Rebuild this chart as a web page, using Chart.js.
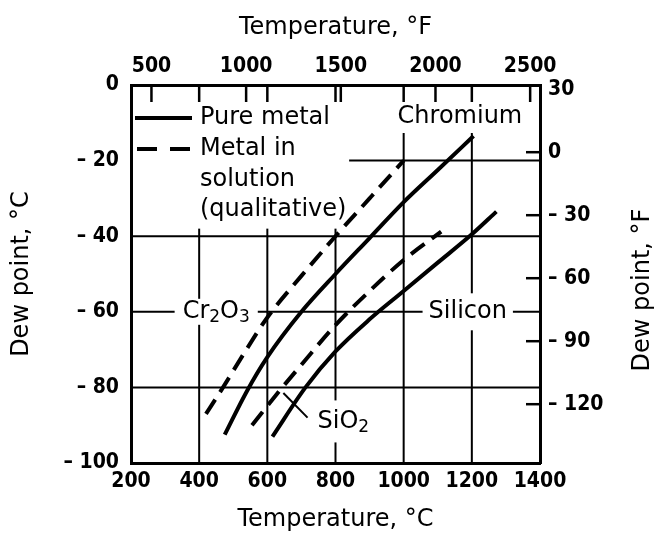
<!DOCTYPE html>
<html>
<head>
<meta charset="utf-8">
<script src="https://cdn.jsdelivr.net/npm/chart.js@4.4.1/dist/chart.umd.min.js"></script>
<style>
  html, body { margin: 0; padding: 0; background: #fff; }
  canvas { display: block; }
</style>
</head>
<body>
<canvas id="chart" width="661" height="535"></canvas>
<script>
// curves: [temperature °C, dew point °C]
const chromiumPure = [[475, -92.5], [540, -81], [600, -72], [700, -60], [800, -50], [900, -40.5], [1000, -31], [1100, -22.5], [1205, -13.5]];
const chromiumSolution = [[420, -87], [470, -80], [535, -70.5], [600, -61.5], [700, -50.5], [800, -40], [900, -30], [1000, -20]];
const siliconPure = [[615, -93], [712, -80], [800, -70.5], [900, -62], [1000, -54.5], [1100, -47], [1200, -39.5], [1272, -33.5]];
const siliconSolution = [[555, -90], [644, -80], [700, -74], [800, -63.5], [900, -54.5], [1000, -46.3], [1110, -38.8]];

// tick labels
const xTicksC = [200, 400, 600, 800, 1000, 1200, 1400];
const yTicksC = [0, -20, -40, -60, -80, -100];
const xTicksF = [500, 1000, 1500, 2000, 2500];
const yTicksF = [30, 0, -30, -60, -90, -120];

const cToF = c => c * 9 / 5 + 32;
const toXY = arr => arr.map(p => ({ x: p[0], y: p[1] }));
const dashLabel = v => (v < 0 ? '\u2013 ' + Math.abs(v) : String(v));

const tickFont = { family: "'Liberation Sans Narrow', 'DejaVu Sans Condensed', sans-serif", size: 21, weight: 'bold' };
const textFont = "'DejaVu Sans', sans-serif";

function line(ctx, x1, y1, x2, y2) {
  ctx.beginPath();
  ctx.moveTo(x1, y1);
  ctx.lineTo(x2, y2);
  ctx.stroke();
}

// text with subscripts: parts like ['Cr', '_2', 'O', '_3']
function richWidth(ctx, parts) {
  let w = 0;
  parts.forEach(p => {
    ctx.font = (p[0] === '_' ? '17px ' : '24px ') + textFont;
    w += ctx.measureText(p.replace('_', '')).width;
  });
  return w;
}
function drawRich(ctx, parts, cx, cy) {
  let px = cx - richWidth(ctx, parts) / 2;
  ctx.textAlign = 'left';
  parts.forEach(p => {
    const sub = p[0] === '_';
    const t = p.replace('_', '');
    ctx.font = (sub ? '17px ' : '24px ') + textFont;
    ctx.fillText(t, px, cy + (sub ? 6 : 0));
    px += ctx.measureText(t).width;
  });
}

// grid pieces, ticks drawn inside the frame, curve labels, legend
const extras = {
  id: 'extras',
  beforeDatasetsDraw(chart) {
    const { ctx, chartArea: a, scales: { x, y, x2, y2 } } = chart;
    ctx.save();
    ctx.strokeStyle = '#000';
    ctx.lineWidth = 2;
    // [value, from, to]
    const vLines = [[400, -38, -100], [600, -38, -100], [800, -38, -100], [1000, -12.7, -100], [1200, -12.7, -100]];
    const hLines = [[-20, 840, 1400], [-40, 200, 1400], [-60, 200, 1400], [-80, 200, 1400]];
    vLines.forEach(([v, a1, a2]) => {
      const px = x.getPixelForValue(v);
      line(ctx, px, y.getPixelForValue(a1), px, y.getPixelForValue(a2));
    });
    hLines.forEach(([v, b1, b2]) => {
      const py = y.getPixelForValue(v);
      line(ctx, x.getPixelForValue(b1), py, x.getPixelForValue(b2), py);
    });

    // inward ticks
    ctx.lineWidth = 2.5;
    xTicksF.forEach(f => {
      const px = x2.getPixelForValue(f);
      line(ctx, px, a.top, px, a.top + 17);
    });
    [400, 600, 800, 1000, 1200].forEach(c => {
      const px = x.getPixelForValue(c);
      line(ctx, px, a.top, px, a.top + 17);
    });
    yTicksF.filter(f => f <= 0).forEach(f => {
      const py = y2.getPixelForValue(f);
      line(ctx, a.right - 14, py, a.right, py);
    });

    // curve labels (white box hides grid behind text)
    ctx.textBaseline = 'middle';
    const labels = [
      { parts: ['Chromium'], x: 1165, y: -8.5, box: false },
      { parts: ['Silicon'], x: 1188, y: -60, padX: 6, h: 37 },
      { parts: ['Cr', '_2', 'O', '_3'], x: 450, y: -60, padX: 8, h: 26 },
      { parts: ['SiO', '_2'], x: 823, y: -89, padX: 4, h: 42 }
    ];
    labels.forEach(l => {
      const px = x.getPixelForValue(l.x);
      const py = y.getPixelForValue(l.y);
      if (l.box !== false) {
        const w = richWidth(ctx, l.parts) + 2 * l.padX;
        ctx.fillStyle = '#fff';
        ctx.fillRect(px - w / 2, py - l.h / 2, w, l.h);
      }
      ctx.fillStyle = '#000';
      drawRich(ctx, l.parts, px, py);
    });
    // SiO2 leader
    ctx.lineWidth = 2;
    line(ctx, x.getPixelForValue(647), y.getPixelForValue(-81.5), x.getPixelForValue(718), y.getPixelForValue(-88));
    ctx.restore();
  },
  afterDraw(chart) {
    const { ctx, chartArea: a } = chart;
    ctx.save();
    ctx.strokeStyle = '#000';
    ctx.fillStyle = '#000';
    ctx.font = '24px ' + textFont;
    ctx.textBaseline = 'middle';
    ctx.textAlign = 'left';

    // legend
    const rows = ['Pure metal', 'Metal in', 'solution', '(qualitative)'];
    const rowY = [33, 64, 95, 125];
    ctx.lineWidth = 4;
    line(ctx, a.left + 4, a.top + rowY[0], a.left + 61, a.top + rowY[0]);
    ctx.setLineDash([20, 13]);
    line(ctx, a.left + 6, a.top + rowY[1], a.left + 59, a.top + rowY[1]);
    ctx.setLineDash([]);
    rows.forEach((t, i) => ctx.fillText(t, a.left + 69, a.top + rowY[i]));

    // right axis title, reads bottom to top
    ctx.translate(643, 290);
    ctx.rotate(-Math.PI / 2);
    ctx.textAlign = 'center';
    ctx.fillText('Dew point, \u00b0F', 0, 0);
    ctx.restore();
  }
};

const ticksFrom = list => scale => { scale.ticks = list.map(v => ({ value: v })); };
const border = { display: true, color: '#000', width: 3 };
const grid = { drawOnChartArea: false, drawTicks: false };

new Chart(document.getElementById('chart'), {
  type: 'line',
  data: {
    datasets: [
      { label: 'Chromium, pure metal', data: toXY(chromiumPure), borderDash: [] },
      { label: 'Chromium, metal in solution', data: toXY(chromiumSolution), borderDash: [17, 9] },
      { label: 'Silicon, pure metal', data: toXY(siliconPure), borderDash: [] },
      { label: 'Silicon, metal in solution', data: toXY(siliconSolution), borderDash: [17, 9] }
    ].map(d => Object.assign(d, {
      borderColor: '#000',
      borderWidth: 4,
      pointRadius: 0,
      fill: false,
      cubicInterpolationMode: 'monotone',
      xAxisID: 'x',
      yAxisID: 'y'
    }))
  },
  options: {
    responsive: false,
    animation: false,
    layout: { padding: 0 },
    plugins: { legend: { display: false }, tooltip: { enabled: false } },
    scales: {
      x: {
        type: 'linear', position: 'bottom', min: 200, max: 1400,
        afterBuildTicks: ticksFrom(xTicksC),
        afterFit: s => { s.height = 72; },
        ticks: { font: tickFont, color: '#000', padding: 6, autoSkip: false, maxRotation: 0, callback: v => String(v) },
        grid, border,
        title: { display: true, text: 'Temperature, \u00b0C', color: '#000', font: { family: textFont, size: 24 }, padding: { top: 0, bottom: 1 } }
      },
      x2: {
        type: 'linear', position: 'top', min: cToF(200), max: cToF(1400),
        afterBuildTicks: ticksFrom(xTicksF),
        afterFit: s => { s.height = 85; },
        ticks: { font: tickFont, color: '#000', padding: 6, autoSkip: false, maxRotation: 0, callback: v => String(v) },
        grid, border,
        title: { display: true, text: 'Temperature, \u00b0F', color: '#000', font: { family: textFont, size: 24 }, padding: { top: 13, bottom: 0 } }
      },
      y: {
        type: 'linear', position: 'left', min: -100, max: 0,
        afterBuildTicks: ticksFrom(yTicksC),
        afterFit: s => { s.width = 131; },
        ticks: { font: tickFont, color: '#000', padding: 12, autoSkip: false, callback: dashLabel },
        grid, border,
        title: { display: true, text: 'Dew point, \u00b0C', color: '#000', font: { family: textFont, size: 24 }, padding: { top: 7, bottom: 0 } }
      },
      y2: {
        type: 'linear', position: 'right', min: cToF(-100), max: cToF(0),
        afterBuildTicks: ticksFrom(yTicksF),
        afterFit: s => { s.width = 121; },
        ticks: { font: tickFont, color: '#000', padding: 8, autoSkip: false, callback: dashLabel },
        grid, border
      }
    }
  },
  plugins: [extras]
});
</script>
</body>
</html>
